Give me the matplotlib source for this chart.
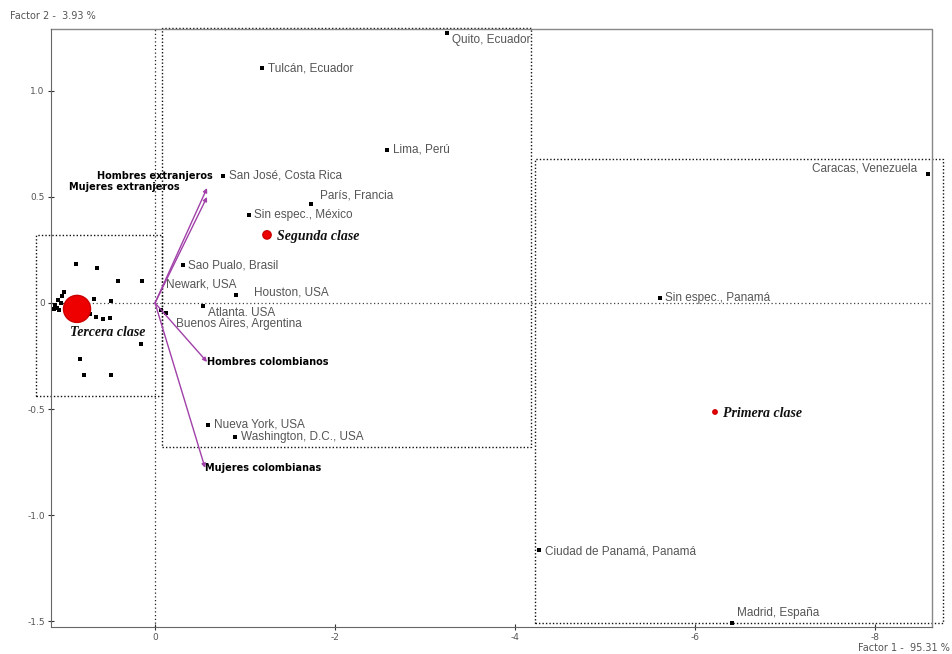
import numpy as np
import matplotlib.pyplot as plt
from matplotlib.patches import Rectangle

# cities (factor 1, factor 2)
cities = ["Quito, Ecuador", "Tulcán, Ecuador", "Lima, Perú", "Caracas, Venezuela",
          "San José, Costa Rica", "París, Francia", "Sin espec., México",
          "Sao Pualo, Brasil", "Newark, USA", "Houston, USA", "Atlanta. USA",
          "Buenos Aires, Argentina", "Sin espec., Panamá", "Nueva York, USA",
          "Washington, D.C., USA", "Ciudad de Panamá, Panamá", "Madrid, España"]
city_x = [-3.24, -1.19, -2.58, -8.59, -0.76, -1.73, -1.04, -0.31, -0.07, -0.90,
          -0.53, -0.12, -5.61, -0.59, -0.89, -4.27, -6.41]
city_y = [1.274, 1.108, 0.722, 0.608, 0.599, 0.467, 0.415, 0.179, -0.033, 0.038,
          -0.014, -0.047, 0.024, -0.575, -0.632, -1.165, -1.509]

# unlabeled points of the third class
small_x = [0.878, 0.644, 0.411, 0.144, 1.011, 1.033, 1.078, 0.678, 0.489, 1.111,
           1.089, 1.067, 1.122, 1.044, 0.722, 0.656, 0.578, 0.500, 0.156, 0.833,
           0.789, 0.489]
small_y = [0.184, 0.165, 0.104, 0.104, 0.052, 0.033, 0.014, 0.019, 0.009, -0.009,
           -0.024, -0.033, -0.028, 0.0, -0.052, -0.066, -0.075, -0.071, -0.193,
           -0.264, -0.340, -0.340]

# class centroids
classes = ["Segunda clase", "Primera clase", "Tercera clase"]
class_x = [-1.244, -6.222, 0.867]
class_y = [0.321, -0.514, -0.028]
class_size = [36, 10, 380]

# supplementary vectors
vectors = ["Hombres extranjeros", "Mujeres extranjeros", "Hombres colombianos",
           "Mujeres colombianas"]
vec_x = [-0.578, -0.578, -0.578, -0.556]
vec_y = [0.542, 0.500, -0.278, -0.778]

# label offsets in points (style)
city_off = [(4, -5), (4, 0), (4, 0), (-8, 4), (4, 0), (7, 6), (4, 0), (4, 0),
            (3, 18), (13, 2), (4, -5), (7, -8), (4, 0), (4, 0), (4, 0), (4, -1), (4, 7)]
city_ha = ["left"] * 17
city_ha[3] = "right"
class_off = [(7, -1), (6, -1), (-5, -17)]
vec_off = [(4, 9), (-20, 7), (0, 0), (0, 0)]
vec_ha = ["right", "right", "left", "left"]

gray = "#555555"
fig = plt.figure(figsize=(9.53, 6.54), dpi=100)
ax = fig.add_axes([51 / 953, 1 - 627 / 654, (932 - 51) / 953, (627 - 29) / 654])
ax.set_xlim(1.156, -8.633)
ax.set_ylim(-1.528, 1.292)

ax.axhline(0, color="#444444", ls=(0, (1, 2)), lw=0.9)
ax.axvline(0, color="#222222", ls=(0, (1, 2)), lw=0.9)

# dotted group boxes
for (x0, x1, y0, y1) in [(1.322, -0.078, 0.321, -0.439),
                         (-0.078, -4.178, 1.297, -0.679),
                         (-4.222, -8.756, 0.679, -1.509)]:
    ax.add_patch(Rectangle((x0, y1), x1 - x0, y0 - y1, fill=False, ec="#111111",
                           ls=(0, (1, 1.5)), lw=1.0, clip_on=False))

ax.scatter(small_x, small_y, s=7, marker="s", color="black", linewidths=0, zorder=3)
ax.scatter(city_x, city_y, s=6, marker="s", color="black", linewidths=0, zorder=3)
for name, x, y, off, ha in zip(cities, city_x, city_y, city_off, city_ha):
    ax.annotate(name, (x, y), xytext=off, textcoords="offset points", ha=ha,
                va="center", fontsize=8.5, color=gray, family="Liberation Sans")

for name, x, y in zip(vectors, vec_x, vec_y):
    ax.annotate("", xy=(x, y), xytext=(0, 0),
                arrowprops=dict(arrowstyle="-|>", color="#a040a8", lw=1.0,
                                mutation_scale=6, shrinkA=0, shrinkB=0))
for name, x, y, off, ha in zip(vectors, vec_x, vec_y, vec_off, vec_ha):
    ax.annotate(name, (x, y), xytext=off, textcoords="offset points", ha=ha,
                va="center", fontsize=7, fontweight="bold", color="black")

ax.scatter(class_x, class_y, s=class_size, color="#ee0000", edgecolor="#cc0000", zorder=4)
for name, x, y, off in zip(classes, class_x, class_y, class_off):
    ax.annotate(name, (x, y), xytext=off, textcoords="offset points", ha="left",
                va="center", fontsize=10, fontweight="bold", style="italic",
                family="Liberation Serif", color="#111111")

ax.set_xticks([0, -2, -4, -6, -8])
ax.set_xticklabels(["0", "-2", "-4", "-6", "-8"])
ax.set_yticks([1.0, 0.5, 0, -0.5, -1.0, -1.5])
ax.set_yticklabels(["1.0", "0.5", "0", "-0.5", "-1.0", "-1.5"])
ax.tick_params(direction="inout", length=5, labelsize=6.5, colors="#333333",
               labelcolor=gray, pad=2)
ax.spines["top"].set_visible(False)
ax.spines["right"].set_visible(False)
for s in ["left", "bottom"]:
    ax.spines[s].set_color("#666666")
ax.plot([0, 1, 1], [1, 1, 0], transform=ax.transAxes, color="#888888", lw=1, clip_on=False)

fig.text(10 / 953, 1 - 16 / 654, "Factor 2 -  3.93 %", fontsize=7, color=gray,
         va="center")
fig.text(950 / 953, 1 - 648 / 654, "Factor 1 -  95.31 %", fontsize=7, color=gray,
         va="center", ha="right")

fig.savefig("out.png", dpi=100)
